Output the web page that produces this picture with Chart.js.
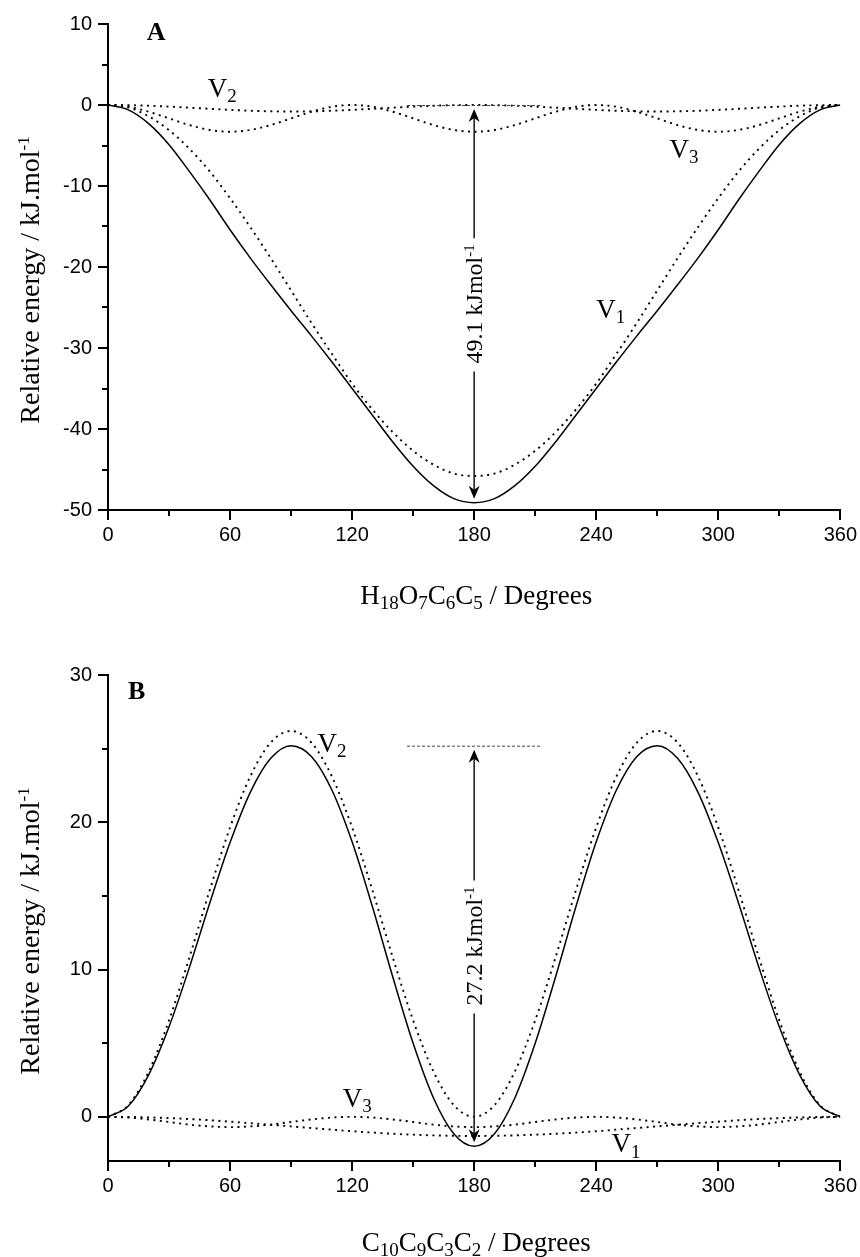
<!DOCTYPE html>
<html lang="en">
<head>
<meta charset="utf-8"/>
<title>Torsional energy profiles</title>
<style>
  body { margin: 0; background: #fff; }
  .panel { position: absolute; left: 0; width: 860px; }
  #panelA { top: 0; height: 628px; }
  #panelB { top: 628px; height: 629px; }
  canvas { display: block; }
</style>
</head>
<body>
<div class="panel" id="panelA"><canvas id="chartA" width="860" height="628"></canvas></div>
<div class="panel" id="panelB"><canvas id="chartB" width="860" height="629"></canvas></div>
<script src="https://cdn.jsdelivr.net/npm/chart.js"></script>
<script>
// dihedral angle, degrees
const angles = [0, 10, 20, 30, 40, 50, 60, 70, 80, 90, 100, 110, 120, 130, 140, 150, 160, 170, 180,
  190, 200, 210, 220, 230, 240, 250, 260, 270, 280, 290, 300, 310, 320, 330, 340, 350, 360];

const xTicks = [0, 60, 120, 180, 240, 300, 360];
const xMinor = [30, 90, 150, 210, 270, 330];

// panel A : H18-O7-C6-C5 rotation
const aTotal = [0, -0.6, -2.3, -4.9, -8.2, -11.7, -15.4, -18.9, -22.2, -25.4, -28.5, -31.7, -35.0, -38.3, -41.6, -44.6, -47.0, -48.6, -49.1,
  -48.6, -47.0, -44.6, -41.6, -38.3, -35.0, -31.7, -28.5, -25.4, -22.2, -18.9, -15.4, -11.7, -8.2, -4.9, -2.3, -0.6, 0];
const aV1 = [0, -0.3, -1.4, -3.1, -5.4, -8.2, -11.5, -15.1, -18.9, -22.9, -26.9, -30.7, -34.4, -37.6, -40.4, -42.7, -44.4, -45.5, -45.8,
  -45.5, -44.4, -42.7, -40.4, -37.6, -34.4, -30.7, -26.9, -22.9, -18.9, -15.1, -11.5, -8.2, -5.4, -3.1, -1.4, -0.3, 0];
const aV2 = [0, -0.02, -0.09, -0.2, -0.33, -0.47, -0.6, -0.71, -0.78, -0.8, -0.78, -0.71, -0.6, -0.47, -0.33, -0.2, -0.09, -0.02, 0,
  -0.02, -0.09, -0.2, -0.33, -0.47, -0.6, -0.71, -0.78, -0.8, -0.78, -0.71, -0.6, -0.47, -0.33, -0.2, -0.09, -0.02, 0];
const aV3 = [0, -0.22, -0.83, -1.65, -2.48, -3.08, -3.3, -3.08, -2.48, -1.65, -0.83, -0.22, 0, -0.22, -0.83, -1.65, -2.48, -3.08, -3.3,
  -3.08, -2.48, -1.65, -0.83, -0.22, 0, -0.22, -0.83, -1.65, -2.48, -3.08, -3.3, -3.08, -2.48, -1.65, -0.83, -0.22, 0];
const aTicks = [-50, -40, -30, -20, -10, 0, 10];
const aMinor = [-45, -35, -25, -15, -5, 5];

// panel B : C10-C9-C3-C2 rotation
const bTotal = [0, 0.73, 2.85, 6.11, 10.14, 14.5, 18.62, 22.05, 24.34, 25.2, 24.47, 22.21, 18.67, 14.26, 9.49, 4.99, 1.28, -1.15, -2.0,
  -1.15, 1.28, 4.99, 9.49, 14.26, 18.67, 22.21, 24.47, 25.2, 24.34, 22.05, 18.62, 14.5, 10.14, 6.11, 2.85, 0.73, 0];
const bV1 = [0, -0.01, -0.04, -0.09, -0.15, -0.23, -0.33, -0.43, -0.54, -0.65, -0.76, -0.87, -0.98, -1.07, -1.15, -1.21, -1.26, -1.29, -1.3,
  -1.29, -1.26, -1.21, -1.15, -1.07, -0.98, -0.87, -0.76, -0.65, -0.54, -0.43, -0.33, -0.23, -0.15, -0.09, -0.04, -0.01, 0];
const bV2 = [0, 0.79, 3.07, 6.55, 10.82, 15.38, 19.65, 23.13, 25.41, 26.2, 25.41, 23.13, 19.65, 15.38, 10.82, 6.55, 3.07, 0.79, 0,
  0.79, 3.07, 6.55, 10.82, 15.38, 19.65, 23.13, 25.41, 26.2, 25.41, 23.13, 19.65, 15.38, 10.82, 6.55, 3.07, 0.79, 0];
const bV3 = [0, -0.05, -0.18, -0.35, -0.53, -0.65, -0.7, -0.65, -0.53, -0.35, -0.18, -0.05, 0, -0.05, -0.18, -0.35, -0.53, -0.65, -0.7,
  -0.65, -0.53, -0.35, -0.18, -0.05, 0, -0.05, -0.18, -0.35, -0.53, -0.65, -0.7, -0.65, -0.53, -0.35, -0.18, -0.05, 0];
const bTicks = [0, 10, 20, 30];
const bMinor = [5, 15, 25];

const SERIF = '"Liberation Serif", "Times New Roman", serif';
const SANS = '"Liberation Sans", Arial, sans-serif';

// text with sub/superscript runs: parts = [[text, ''|'sub'|'sup'], ...]
function richText(ctx, parts, x, y, size, opts) {
  opts = opts || {};
  const weight = opts.bold ? 'bold ' : '';
  const fontFor = p => weight + (p[1] ? Math.round(size * (p[1] === 'sup' ? 0.62 : 0.7)) : size) + 'px ' + SERIF;
  const widths = parts.map(p => { ctx.font = fontFor(p); return ctx.measureText(p[0]).width; });
  const total = widths.reduce((s, w) => s + w, 0);
  ctx.save();
  ctx.translate(x, y);
  if (opts.rotate) ctx.rotate(-Math.PI / 2);
  ctx.fillStyle = '#000';
  ctx.textAlign = 'left';
  ctx.textBaseline = 'alphabetic';
  let cx = opts.align === 'center' ? -total / 2 : 0;
  parts.forEach((p, i) => {
    let dy = 0;
    if (p[1] === 'sub') dy = size * 0.2;
    if (p[1] === 'sup') dy = -size * 0.36;
    ctx.font = fontFor(p);
    ctx.fillText(p[0], cx, dy);
    cx += widths[i];
  });
  ctx.restore();
  return total;
}

function arrowHead(ctx, x, y, dir) {
  // dir = 1 points down, -1 points up; (x, y) is the tip
  ctx.beginPath();
  ctx.moveTo(x, y);
  ctx.lineTo(x - 5.5, y - dir * 13);
  ctx.lineTo(x, y - dir * 9);
  ctx.lineTo(x + 5.5, y - dir * 13);
  ctx.closePath();
  ctx.fill();
}

const decorations = {
  id: 'decorations',
  afterDraw(chart) {
    const d = chart.options.plugins.decorations;
    const ctx = chart.ctx;
    const xs = chart.scales.x, ys = chart.scales.y, area = chart.chartArea;

    // minor tick marks
    ctx.save();
    ctx.strokeStyle = '#000';
    ctx.lineWidth = 2;
    ctx.beginPath();
    xMinor.forEach(v => {
      const px = Math.round(xs.getPixelForValue(v));
      ctx.moveTo(px, area.bottom);
      ctx.lineTo(px, area.bottom + 6);
    });
    d.yMinor.forEach(v => {
      const py = Math.round(ys.getPixelForValue(v));
      ctx.moveTo(area.left - 6, py);
      ctx.lineTo(area.left, py);
    });
    ctx.stroke();
    ctx.restore();

    // axis titles
    richText(ctx, [['Relative energy / kJ.mol', ''], ['-1', 'sup']],
      39, (area.top + area.bottom) / 2 + 13, 28, { rotate: true, align: 'center' });
    richText(ctx, d.xTitle, (area.left + area.right) / 2 + 2, area.bottom + d.xTitleGap, 27, { align: 'center' });

    // panel letter and curve labels
    richText(ctx, [[d.letter[0], '']], xs.getPixelForValue(d.letter[1]), ys.getPixelForValue(d.letter[2]), 26, { bold: true });
    d.labels.forEach(l => {
      richText(ctx, [['V', ''], [l[0], 'sub']], xs.getPixelForValue(l[1]), ys.getPixelForValue(l[2]), 27);
    });

    // reference level at the top of the barrier
    const r = d.refLine;
    ctx.save();
    ctx.strokeStyle = '#444';
    ctx.lineWidth = 1;
    ctx.setLineDash([3, 2]);
    ctx.beginPath();
    ctx.moveTo(xs.getPixelForValue(r.from), ys.getPixelForValue(r.y) + 0.5);
    ctx.lineTo(xs.getPixelForValue(r.to), ys.getPixelForValue(r.y) + 0.5);
    ctx.stroke();
    ctx.restore();

    // barrier arrow with its height written along it
    const a = d.arrow;
    const ax = xs.getPixelForValue(a.x);
    const yTop = ys.getPixelForValue(a.top) + 4;
    const yBot = ys.getPixelForValue(a.bottom) - 4;
    const mid = (yTop + yBot) / 2;
    ctx.save();
    const w = richText(ctx, [[a.text, ''], ['-1', 'sup']], ax + 8, mid, 24, { rotate: true, align: 'center' });
    ctx.strokeStyle = '#222';
    ctx.fillStyle = '#000';
    ctx.lineWidth = 1.6;
    ctx.beginPath();
    ctx.moveTo(ax, yTop + 9);
    ctx.lineTo(ax, mid - w / 2 - 6);
    ctx.moveTo(ax, mid + w / 2 + 8);
    ctx.lineTo(ax, yBot - 9);
    ctx.stroke();
    arrowHead(ctx, ax, yTop, -1);
    arrowHead(ctx, ax, yBot, 1);
    ctx.restore();
  }
};

function points(values) {
  return angles.map((a, i) => ({ x: a, y: values[i] }));
}

function curve(values, dotted) {
  return {
    data: points(values),
    borderColor: '#000',
    borderWidth: dotted ? 1.9 : 1.5,
    borderDash: dotted ? [2, 4.5] : [],
    pointRadius: 0,
    fill: false,
    cubicInterpolationMode: 'monotone'
  };
}

function energyChart(id, series, yRange, yTicks, extra) {
  return new Chart(document.getElementById(id), {
    type: 'line',
    data: { datasets: series },
    plugins: [decorations],
    options: {
      responsive: false,
      animation: false,
      events: [],
      layout: { padding: { top: extra.padTop, right: 19, left: 0, bottom: 0 } },
      plugins: {
        legend: { display: false },
        tooltip: { enabled: false },
        decorations: extra
      },
      scales: {
        x: {
          type: 'linear',
          min: 0,
          max: 360,
          afterBuildTicks: s => { s.ticks = xTicks.map(v => ({ value: v })); },
          afterFit: s => { s.height = extra.xHeight; },
          ticks: { color: '#000', font: { family: SANS, size: 20 }, padding: 3, maxRotation: 0, autoSkip: false },
          grid: { drawOnChartArea: false, tickLength: 10, color: '#000', lineWidth: 2 },
          border: { color: '#000', width: 2 }
        },
        y: {
          type: 'linear',
          min: yRange[0],
          max: yRange[1],
          afterBuildTicks: s => { s.ticks = yTicks.map(v => ({ value: v })); },
          afterFit: s => { s.width = 108; },
          ticks: { color: '#000', font: { family: SANS, size: 20 }, padding: 6, autoSkip: false },
          grid: { drawOnChartArea: false, tickLength: 10, color: '#000', lineWidth: 2 },
          border: { color: '#000', width: 2 }
        }
      }
    }
  });
}

energyChart('chartA', [curve(aTotal, false), curve(aV1, true), curve(aV2, true), curve(aV3, true)], [-50, 10], aTicks, {
  padTop: 24,
  xHeight: 118,
  yMinor: aMinor,
  xTitle: [['H', ''], ['18', 'sub'], ['O', ''], ['7', 'sub'], ['C', ''], ['6', 'sub'], ['C', ''], ['5', 'sub'], [' / Degrees', '']],
  xTitleGap: 94,
  letter: ['A', 19, 8.0],
  labels: [['2', 49, 1.0], ['3', 276, -6.5], ['1', 240, -26.3]],
  refLine: { y: 0, from: 147, to: 213 },
  arrow: { x: 180, top: 0, bottom: -49.1, text: '49.1 kJmol' }
});

energyChart('chartB', [curve(bTotal, false), curve(bV1, true), curve(bV2, true), curve(bV3, true)], [-3, 30], bTicks, {
  padTop: 47,
  xHeight: 96,
  yMinor: bMinor,
  xTitle: [['C', ''], ['10', 'sub'], ['C', ''], ['9', 'sub'], ['C', ''], ['3', 'sub'], ['C', ''], ['2', 'sub'], [' / Degrees', '']],
  xTitleGap: 90,
  letter: ['B', 9.8, 28.4],
  labels: [['2', 103, 24.8], ['3', 115.4, 0.7], ['1', 247.5, -2.4]],
  refLine: { y: 25.2, from: 147, to: 213 },
  arrow: { x: 180, top: 25.2, bottom: -2.0, text: '27.2 kJmol' }
});
</script>
</body>
</html>
